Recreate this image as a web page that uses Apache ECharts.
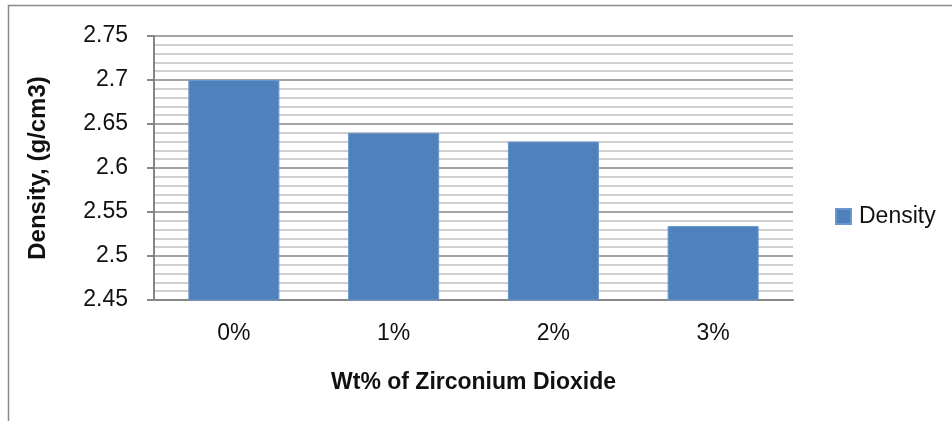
<!DOCTYPE html>
<html><head><meta charset="utf-8">
<script src="https://cdn.jsdelivr.net/npm/echarts@6/dist/echarts.min.js"></script>
<style>html,body{margin:0;padding:0;background:#fff}#c{width:952px;height:421px}</style>
</head><body><div id="c"></div>
<script>
const categories = ['0%', '1%', '2%', '3%'];
const densityValues = [2.70, 2.64, 2.63, 2.534];
const seriesName = 'Density';
const yMin = 2.45, yMax = 2.75, yStep = 0.05;
const xTitle = 'Wt% of Zirconium Dioxide';
const yTitle = 'Density, (g/cm3)';

const chart = echarts.init(document.getElementById('c'));
const FONT = "'Liberation Sans', Arial, sans-serif";
chart.setOption({
  animation: false,
  textStyle: { fontFamily: FONT },
  graphic: [{
    type: 'rect', shape: { x: 8.5, y: 5.5, width: 1000, height: 500 },
    style: { fill: 'none', stroke: '#8a8a8a', lineWidth: 1.5 }, silent: true
  }],
  grid: { left: 154, right: 159, top: 36, bottom: 121 },
  legend: {
    data: [{ name: seriesName, icon: 'rect' }], left: 835, top: 205, padding: 0,
    itemWidth: 15, itemHeight: 15, itemGap: 8,
    textStyle: { fontSize: 23, color: '#111', fontFamily: FONT, padding: [0, 0, 0, 3] }
  },
  xAxis: {
    type: 'category', data: categories,
    axisLine: { lineStyle: { color: '#868686', width: 2 } },
    axisTick: { show: false },
    axisLabel: { fontSize: 23, color: '#111', margin: 22 },
    name: xTitle, nameLocation: 'middle', nameGap: 71,
    nameTextStyle: { fontSize: 23, fontWeight: 'bold', color: '#111', fontFamily: FONT }
  },
  yAxis: {
    type: 'value', min: yMin, max: yMax, interval: yStep,
    axisLine: { show: true, lineStyle: { color: '#868686', width: 2 } },
    axisTick: { show: true, length: 7, lineStyle: { color: '#868686', width: 2 } },
    axisLabel: { fontSize: 23, color: '#111', margin: 26, formatter: v => String(+v.toFixed(2)) },
    splitLine: { lineStyle: { color: '#878787', width: 1.5 } },
    minorTick: { show: false, splitNumber: 5 },
    minorSplitLine: { show: true, lineStyle: { color: '#c0c0c0', width: 1.5 } },
    name: yTitle, nameLocation: 'middle', nameGap: 104, nameRotate: 90,
    nameTextStyle: { fontSize: 24, fontWeight: 'bold', color: '#111', fontFamily: FONT }
  },
  series: [{
    name: seriesName, type: 'bar', data: densityValues, barWidth: '57%',
    itemStyle: { color: '#4f81bd', borderColor: '#6d97cc', borderWidth: 1 }
  }]
});
</script></body></html>
